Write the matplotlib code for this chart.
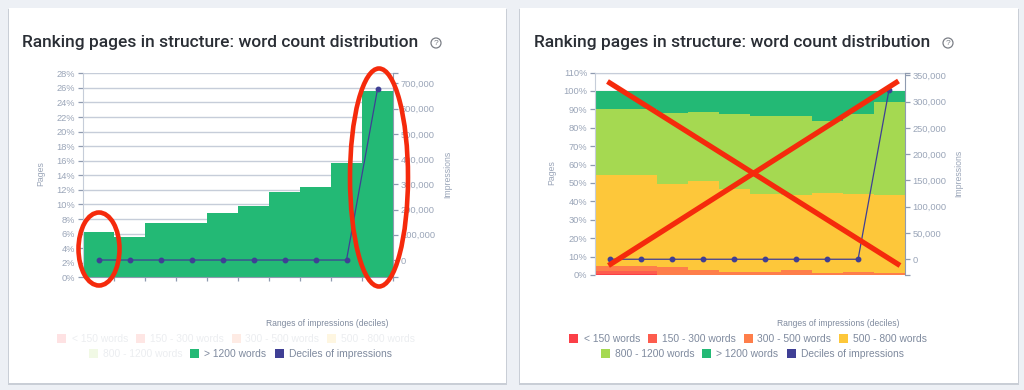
import matplotlib
matplotlib.use('Agg')
import matplotlib.pyplot as plt
from matplotlib.patches import Ellipse, Rectangle, Circle

plt.rcParams['font.family'] = ['Liberation Sans', 'DejaVu Sans']

W, H = 1024, 390

# data
deciles = [1, 2, 3, 4, 5, 6, 7, 8, 9, 10]
title = 'Ranking pages in structure: word count distribution'
legend_names = ['< 150 words', '150 - 300 words', '300 - 500 words', '500 - 800 words',
                '800 - 1200 words', '> 1200 words', 'Deciles of impressions']
legend_colors = ['#fb3f47', '#fd5c4e', '#fe7e4a', '#fdc73a', '#a5d951', '#23b975', '#3f3f95']

# left chart
left_pages = [6.2, 5.6, 7.5, 7.4, 8.8, 9.8, 11.7, 12.4, 15.7, 25.6]
left_impressions = [0, 0, 0, 0, 0, 0, 0, 0, 0, 677000]
left_pct_ticks = [0, 2, 4, 6, 8, 10, 12, 14, 16, 18, 20, 22, 24, 26, 28]
left_imp_ticks = [0, 100000, 200000, 300000, 400000, 500000, 600000, 700000]

# right chart, % of pages per bin
w_lt150 = [0.5, 0.5, 0.1, 0.1, 0.1, 0.1, 0.1, 0.1, 0.1, 0.1]
w_150_300 = [1.9, 1.9, 0.1, 0.1, 0.1, 0.1, 0.1, 0.1, 0.1, 0.1]
w_300_500 = [2.5, 2.5, 4.3, 2.5, 1.6, 1.6, 2.5, 0.7, 1.6, 1.1]
w_500_800 = [49.6, 49.6, 45.0, 48.3, 44.8, 42.2, 40.8, 43.5, 42.2, 42.2]
w_800_1200 = [35.5, 35.5, 38.7, 37.4, 40.6, 42.2, 42.7, 39.3, 43.3, 50.3]
w_gt1200 = [10.0, 10.0, 11.8, 11.6, 12.8, 13.8, 13.8, 16.3, 12.7, 6.2]
right_series = [w_lt150, w_150_300, w_300_500, w_500_800, w_800_1200, w_gt1200]
right_impressions = [0, 0, 0, 0, 0, 0, 0, 0, 0, 323000]
right_pct_ticks = [0, 10, 20, 30, 40, 50, 60, 70, 80, 90, 100, 110]
right_imp_ticks = [0, 50000, 100000, 150000, 200000, 250000, 300000, 350000]

grid_c = '#c6cdd9'
axis_c = '#8f9bb0'
label_c = '#9aa5b8'
legend_c = '#7f8a9e'
red = '#f52a0c'


def axes_px(x0, y0, x1, y1):
    # pixel box (y from the top) to figure coordinates
    return [x0 / W, 1 - y1 / H, (x1 - x0) / W, (y1 - y0) / H]


fig = plt.figure(figsize=(W / 100, H / 100), dpi=100, facecolor='#edf0f5')

# cards behind everything
bg = fig.add_axes([0, 0, 1, 1], zorder=0)
bg.set_xlim(0, W)
bg.set_ylim(H, 0)
bg.axis('off')
for x0, x1 in [(9, 506), (520, 1018)]:
    bg.add_patch(Rectangle((x0 - 1, 9), x1 - x0 + 2, 376, color='#c9ced6', lw=0))
    bg.add_patch(Rectangle((x0, 8), x1 - x0, 375, color='white', lw=0))


def style_axes(ax, ax2, pct_ticks, pct_max, imp_ticks, imp_lim, pct_size):
    ax.set_xlim(0.5, 10.5)
    ax.set_ylim(0, pct_max)
    ax.set_yticks(pct_ticks)
    ax.set_yticklabels([f'{t}%' for t in pct_ticks])
    ax.tick_params(axis='y', length=3.6, width=0.9, color=axis_c, labelcolor=label_c,
                   labelsize=pct_size, pad=2)
    ax.grid(axis='y', color=grid_c, lw=1)
    ax.set_axisbelow(True)
    for s in ['top', 'right', 'left', 'bottom']:
        ax.spines[s].set_visible(False)
    ax.spines['left'].set_visible(True)
    ax.spines['left'].set_color(grid_c)
    ax2.set_ylim(*imp_lim)
    ax2.set_yticks(imp_ticks)
    ax2.set_yticklabels([f'{t:,}' for t in imp_ticks])
    ax2.set_yticks(list(imp_lim), minor=True)
    ax2.tick_params(axis='y', which='both', length=3.6, width=0.9, color=axis_c,
                    labelcolor=label_c, labelsize=pct_size, pad=2)
    for s in ['top', 'left', 'bottom']:
        ax2.spines[s].set_visible(False)
    ax2.spines['right'].set_color(axis_c)


# left chart
ax1 = fig.add_axes(axes_px(83, 73.3, 393, 277.3), zorder=1)
ax1.patch.set_alpha(0)
ax1.bar(deciles, left_pages, width=1.0, color=legend_colors[5], lw=0, zorder=2)
ax1b = ax1.twinx()
ax1b.plot(deciles, left_impressions, color=legend_colors[6], lw=0.9, marker='o', ms=3.2, zorder=3)
style_axes(ax1, ax1b, left_pct_ticks, 28, left_imp_ticks, (-68500, 740000), 6.7)
ax1.spines['bottom'].set_visible(True)
ax1.spines['bottom'].set_color(axis_c)
ax1.set_xticks([d + 0.5 for d in deciles])
ax1.set_xticklabels([])
ax1.tick_params(axis='x', length=3, width=0.9, color=axis_c)

# right chart
ax2 = fig.add_axes(axes_px(595, 72.5, 904.5, 275), zorder=1)
ax2.patch.set_alpha(0)
bottom = [0] * 10
for vals, c in zip(right_series, legend_colors[:6]):
    ax2.bar(deciles, vals, width=1.0, bottom=bottom, color=c, lw=0, zorder=2)
    bottom = [b + v for b, v in zip(bottom, vals)]
ax2b = ax2.twinx()
ax2b.plot(deciles, right_impressions, color=legend_colors[6], lw=0.9, marker='o', ms=3.2, zorder=3)
style_axes(ax2, ax2b, right_pct_ticks, 110, right_imp_ticks, (-30000, 355700), 6.7)
ax2.set_xticks([])
ax2.spines['top'].set_visible(True)
ax2.spines['top'].set_color(grid_c)

# overlay: texts, legends, hand-drawn red marks
top = fig.add_axes([0, 0, 1, 1], zorder=5)
top.set_xlim(0, W)
top.set_ylim(H, 0)
top.axis('off')
top.patch.set_alpha(0)

for off in [0, 512]:
    top.text(22 + off, 42, title, fontsize=12.5, fontweight='medium', color='#2a2e35',
             va='center', ha='left', family=['Roboto', 'DejaVu Sans'])
    top.add_patch(Circle((436 + off, 43), 5, fill=False, ec='#7b7f86', lw=0.9))
    top.text(436 + off, 43.2, '?', fontsize=6, color='#7b7f86', ha='center', va='center')
    top.text(327.5 + off - (1 if off else 0), 324, 'Ranges of impressions (deciles)', fontsize=6.15,
             color=legend_c, ha='center', va='center')

top.text(41, 174, 'Pages', fontsize=6.3, color=label_c, rotation=90, ha='center', va='center')
top.text(448, 174, 'Impressions', fontsize=6.3, color=label_c, rotation=90, ha='center', va='center')
top.text(552, 173, 'Pages', fontsize=6.3, color=label_c, rotation=90, ha='center', va='center')
top.text(959, 173, 'Impressions', fontsize=6.3, color=label_c, rotation=90, ha='center', va='center')

swatch_x = [57, 136, 232, 327, 89, 190, 275]
text_x = [72, 150, 245, 341, 103, 204, 289]
row_y = [339, 339, 339, 339, 354, 354, 354]
for i, name in enumerate(legend_names):
    for off, faded in [(0, i < 5), (512, False)]:
        a = 0.15 if faded else 1
        top.add_patch(Rectangle((swatch_x[i] + off, row_y[i] - 5), 9, 9, color=legend_colors[i],
                                lw=0, alpha=a))
        top.text(text_x[i] + off, row_y[i], name, fontsize=7.4, color=legend_c, alpha=a,
                 ha='left', va='center')

top.add_patch(Ellipse((99, 249), 41, 73, fill=False, ec=red, lw=3.3))
top.add_patch(Ellipse((379, 177.5), 58, 218, fill=False, ec=red, lw=3.3))
top.plot([607.5, 900], [81.5, 265.5], color=red, lw=3.8, solid_capstyle='butt')
top.plot([608.5, 898.5], [265.5, 81], color=red, lw=3.8, solid_capstyle='butt')

fig.savefig('out.png', dpi=100, facecolor=fig.get_facecolor())
